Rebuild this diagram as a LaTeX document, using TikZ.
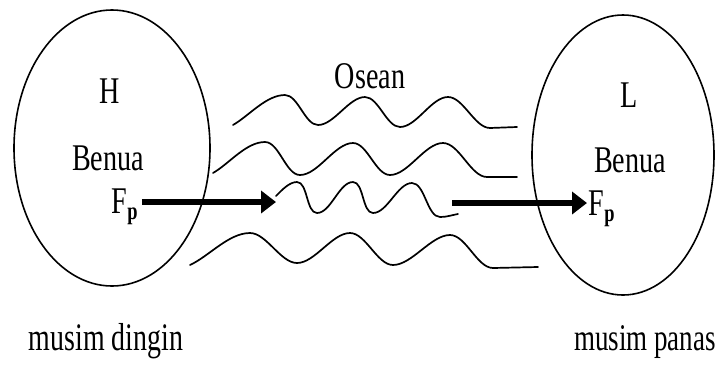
\documentclass[tikz,border=0pt]{standalone}
\usepackage{fontspec}
\setmainfont{Liberation Serif}
\usetikzlibrary{arrows.meta}
\newcommand{\vtxt}[1]{\scalebox{0.97}[1.3]{#1}}
\newcommand{\ntxt}[1]{\scalebox{0.93}[1.3]{#1}}
\newcommand{\fpsym}{\vtxt{F\kern0.5pt\raisebox{-5pt}{\fontsize{19}{19}\selectfont\textbf{p}}}}
\tikzset{
  lbl/.style={font=\fontsize{29}{30}\selectfont, inner sep=1pt},
  biglbl/.style={font=\fontsize{30}{32}\selectfont, inner sep=1pt},
  land/.style={draw, line width=1.6pt},
  wave/.style={line width=1.7pt, line cap=round},
  wv/.style={out=0, in=180, looseness=0.75},
  arr/.style={line width=6.5pt, -{Triangle[length=15pt,width=22pt]}},
}
\begin{document}
\begin{tikzpicture}[x=1pt,y=-1pt]
\useasboundingbox (0,0) rectangle (717,365);
% continents
\draw[land] (112,148) ellipse [x radius=98, y radius=138];
\draw[land] (623,155) ellipse [x radius=91, y radius=140];
% labels
\node[lbl, anchor=base] (H) at (110,103) {\vtxt{H}};
\node[lbl, anchor=base] (benuaL) at (108,170) {\vtxt{Benua}};
\node[lbl, anchor=base west] (fpL) at (110,213) {\fpsym};
\node[lbl, anchor=base] (L) at (629,107) {\vtxt{L}};
\node[lbl, anchor=base] (benuaR) at (630,172) {\vtxt{Benua}};
\node[lbl, anchor=base west] (fpR) at (587,215) {\fpsym};
\node[lbl, anchor=base] (osean) at (370,88) {\vtxt{Osean}};
\node[biglbl, anchor=base] (dingin) at (106,350) {\ntxt{musim dingin}};
\node[lbl, anchor=base] (panas) at (645,350) {\ntxt{musim panas}};
% waves
\draw[wave] (233,125) to[out=30,in=180,looseness=0.8] (285,95) to[wv] (318,125) to[wv] (365,97)
  to[wv] (400,127) to[wv] (448,97) to[wv] (490,128) -- (517,127);
\draw[wave] (213,173) to[out=30,in=180,looseness=0.8] (265,142) to[wv] (300,175) to[wv] (353,143)
  to[wv] (390,175) to[wv] (443,143) to[wv] (487,177) -- (517,177);
\draw[wave] (276,196) to[out=45,in=180,looseness=0.8] (297,182) to[wv] (317,213) to[wv] (353,182)
  to[wv] (373,213) to[wv] (412,183) to[wv] (440,217) to[out=0,in=190] (458,214);
\draw[wave] (190,265) to[out=25,in=180,looseness=0.8] (250,233) to[wv] (297,263) to[wv] (350,233)
  to[wv] (393,265) to[wv] (450,235) to[wv] (493,268) -- (538,267);
% arrows
\coordinate (tipL) at (276,202);
\coordinate (startR) at (452,203);
\draw[arr] ([xshift=3pt]fpL.east |- tipL) -- (tipL);
\draw[arr] (startR) -- (startR -| fpR.west);
\end{tikzpicture}
\end{document}
